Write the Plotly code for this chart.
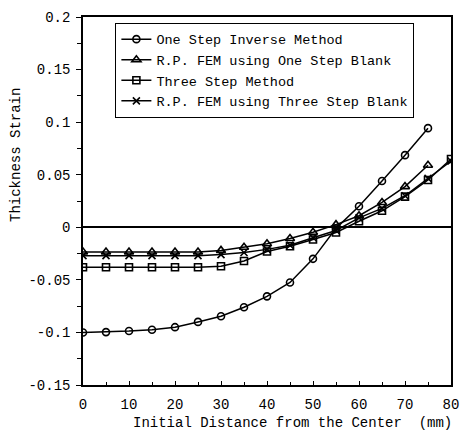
import plotly.graph_objects as go

# ---- data ----
x_short = [0, 5, 10, 15, 20, 25, 30, 35, 40, 45, 50, 55, 60, 65, 70, 75]
x_long = [0, 5, 10, 15, 20, 25, 30, 35, 40, 45, 50, 55, 60, 65, 70, 75, 80]

one_step_inverse = [-0.100, -0.0997, -0.0987, -0.0975, -0.095, -0.090, -0.0846, -0.076,
                    -0.0657, -0.0525, -0.030, -0.001, 0.020, 0.044, 0.0686, 0.0943]
rp_fem_one_step = [-0.0235, -0.0235, -0.0235, -0.0235, -0.0235, -0.0235, -0.022, -0.019,
                   -0.0157, -0.0107, -0.0047, 0.0025, 0.011, 0.0236, 0.0387, 0.059]
three_step = [-0.038, -0.038, -0.038, -0.038, -0.038, -0.038, -0.037, -0.032, -0.023,
              -0.018, -0.0116, -0.005, 0.0057, 0.0157, 0.0292, 0.045, 0.065]
rp_fem_three_step = [-0.027, -0.027, -0.027, -0.027, -0.027, -0.027, -0.026, -0.024, -0.021,
                     -0.017, -0.010, -0.003, 0.009, 0.018, 0.030, 0.0465, 0.063]

series_names = ["One Step Inverse Method", "R.P. FEM using One Step Blank",
                "Three Step Method", "R.P. FEM using Three Step Blank"]

x_ticks = [0, 10, 20, 30, 40, 50, 60, 70, 80]
y_ticks = [0.2, 0.15, 0.1, 0.05, 0, -0.05, -0.1, -0.15]
y_ticktext = ["0.2", "0.15", "0.1", "0.05", "0", "-0.05", "-0.1", "-0.15"]

FONT = "Liberation Mono"

fig = go.Figure()
specs = [
    (x_short, one_step_inverse, "circle-open", 7),
    (x_short, rp_fem_one_step, "triangle-up-open", 8),
    (x_long, three_step, "square-open", 7),
    (x_long, rp_fem_three_step, "x-thin-open", 7),
]
for (xs, ys, sym, sz), name in zip(specs, series_names):
    fig.add_trace(go.Scatter(
        x=xs, y=ys, name=name, mode="lines+markers",
        line=dict(color="black", width=1.5),
        marker=dict(symbol=sym, size=sz, color="black",
                    line=dict(color="black", width=1.6)),
    ))

fig.update_layout(
    width=469, height=438,
    margin=dict(l=83, r=10, t=14, b=53),
    plot_bgcolor="white", paper_bgcolor="white",
    font=dict(family=FONT, size=14, color="black"),
    showlegend=True,
    legend=dict(
        x=0.088, y=0.984, xanchor="left", yanchor="top",
        bgcolor="white", bordercolor="black", borderwidth=1,
        font=dict(family=FONT, size=13.5, color="black"),
        itemwidth=30, tracegroupgap=0,
    ),
    xaxis=dict(
        range=[0, 80], tickvals=x_ticks, showgrid=False, zeroline=False,
        showline=True, linecolor="black", linewidth=1.5, mirror=True,
        ticks="inside", ticklen=4, tickcolor="black",
        minor=dict(dtick=5, ticks="inside", ticklen=3, tickcolor="black"),
        tickfont=dict(family=FONT, size=14), ticklabelstandoff=5,
    ),
    yaxis=dict(
        range=[-0.15, 0.2], tickvals=y_ticks, ticktext=y_ticktext,
        showgrid=False, zeroline=True, zerolinecolor="black", zerolinewidth=1.5,
        showline=True, linecolor="black", linewidth=1.5, mirror=True,
        ticks="outside", ticklen=5, tickcolor="black",
        minor=dict(dtick=0.025, ticks="outside", ticklen=4, tickcolor="black"),
        tickfont=dict(family=FONT, size=14), ticklabelstandoff=3,
    ),
    annotations=[
        dict(text="Thickness Strain", textangle=-90, xref="paper", yref="paper",
             x=-0.182, y=0.625, xanchor="center", yanchor="middle", showarrow=False,
             font=dict(family=FONT, size=14)),
        dict(text="Initial Distance from the Center  (mm)", xref="paper", yref="paper",
             x=0.569, y=-0.102, xanchor="center", yanchor="middle", showarrow=False,
             font=dict(family=FONT, size=14)),
    ],
)

fig.write_html("out.html", config={"displayModeBar": False},
               post_script="document.body.style.margin='0';")
